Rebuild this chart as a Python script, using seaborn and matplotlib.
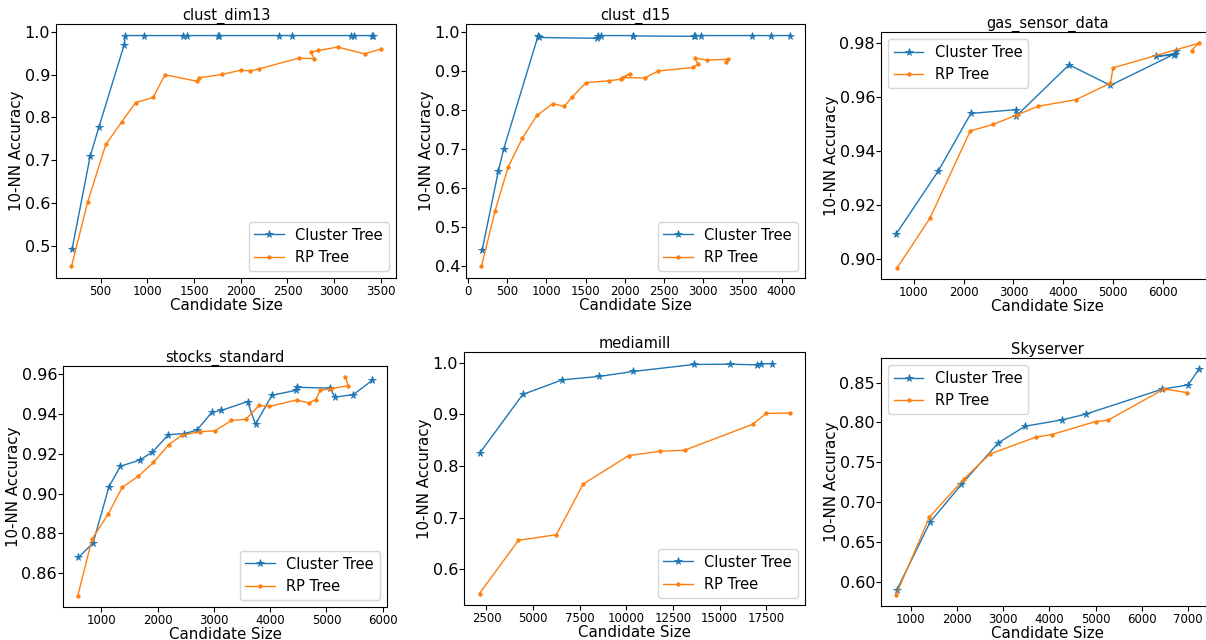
import matplotlib
matplotlib.use("Agg")
import matplotlib.pyplot as plt
import seaborn as sns
import pandas as pd

# ---------------- data ----------------
titles = ["clust_dim13", "clust_d15", "gas_sensor_data", "stocks_standard", "mediamill", "Skyserver"]
series_names = ["Cluster Tree", "RP Tree"]

# clust_dim13
dim13_ct_x = [196, 389, 482, 754, 764, 964, 1386, 1421, 1757, 1764, 2411, 2546, 3179, 3214, 3400, 3418]
dim13_ct_y = [0.492, 0.709, 0.777, 0.971, 0.992, 0.992, 0.992, 0.992, 0.992, 0.992, 0.992, 0.992, 0.992, 0.992, 0.992, 0.992]
dim13_rp_x = [189, 364, 557, 725, 875, 1064, 1189, 1532, 1554, 1804, 2004, 2104, 2196, 2621, 2786, 2752, 2829, 3039, 3325, 3496]
dim13_rp_y = [0.451, 0.603, 0.737, 0.789, 0.835, 0.847, 0.900, 0.885, 0.893, 0.901, 0.911, 0.909, 0.914, 0.939, 0.938, 0.953, 0.957, 0.965, 0.949, 0.960]
dim13_xticks = [500, 1000, 1500, 2000, 2500, 3000, 3500]

# clust_d15
d15_ct_x = [181, 388, 456, 895, 905, 1646, 1660, 1696, 2100, 2101, 2880, 2890, 2975, 3620, 3861, 4101]
d15_ct_y = [0.440, 0.643, 0.700, 0.991, 0.987, 0.985, 0.991, 0.992, 0.992, 0.991, 0.990, 0.992, 0.992, 0.992, 0.992, 0.992]
d15_rp_x = [173, 346, 515, 696, 882, 1084, 1228, 1325, 1506, 1802, 1954, 2068, 1965, 2253, 2426, 2873, 2932, 2894, 3046, 3316, 3291]
d15_rp_y = [0.399, 0.541, 0.655, 0.729, 0.787, 0.817, 0.810, 0.833, 0.871, 0.876, 0.880, 0.894, 0.884, 0.883, 0.901, 0.910, 0.919, 0.934, 0.929, 0.931, 0.924]
d15_xticks = [0, 500, 1000, 1500, 2000, 2500, 3000, 3500, 4000]

# gas_sensor_data
gas_ct_x = [645, 1489, 2145, 3056, 3050, 4115, 4945, 6240, 5856, 6230, 6271]
gas_ct_y = [0.9094, 0.9327, 0.9541, 0.9555, 0.9530, 0.9721, 0.9645, 0.9762, 0.9752, 0.9758, 0.9772]
gas_rp_x = [665, 1322, 2132, 2587, 3070, 3485, 4255, 4945, 4999, 6720, 6573]
gas_rp_y = [0.8969, 0.9152, 0.9476, 0.9500, 0.9535, 0.9567, 0.9592, 0.9653, 0.9710, 0.9801, 0.9774]
gas_xticks = [1000, 2000, 3000, 4000, 5000, 6000]

# stocks_standard
stk_ct_x = [591, 852, 1136, 1338, 1682, 1907, 2192, 2471, 2696, 2963, 3135, 3598, 3740, 4031, 4464, 4470, 5063, 5152, 5478, 5816]
stk_ct_y = [0.8679, 0.8752, 0.9036, 0.9138, 0.9169, 0.9209, 0.9297, 0.9302, 0.9319, 0.9409, 0.9419, 0.9463, 0.9349, 0.9495, 0.9520, 0.9535, 0.9531, 0.9486, 0.9498, 0.9570]
stk_rp_x = [579, 834, 1119, 1368, 1658, 1925, 2198, 2435, 2756, 3016, 3313, 3568, 3805, 3983, 4470, 4689, 4808, 4891, 5081, 5389, 5336]
stk_rp_y = [0.8485, 0.8772, 0.8896, 0.9031, 0.9088, 0.9157, 0.9247, 0.9294, 0.9312, 0.9316, 0.9368, 0.9374, 0.9444, 0.9439, 0.9471, 0.9456, 0.9473, 0.9520, 0.9528, 0.9543, 0.9587]
stk_xticks = [1000, 2000, 3000, 4000, 5000, 6000]

# mediamill
mm_ct_x = [2143, 4446, 6571, 8536, 10375, 13625, 15536, 17018, 17196, 17821]
mm_ct_y = [0.8254, 0.9388, 0.9671, 0.9736, 0.9833, 0.9968, 0.9974, 0.9961, 0.9978, 0.9987]
mm_rp_x = [2125, 4214, 6250, 7679, 10125, 11821, 13125, 16768, 17500, 18750]
mm_rp_y = [0.5530, 0.6560, 0.6670, 0.7649, 0.8203, 0.8287, 0.8306, 0.8808, 0.9021, 0.9027]
mm_xticks = [2500, 5000, 7500, 10000, 12500, 15000, 17500]

# Skyserver
sky_ct_x = [697, 1418, 2096, 2896, 3473, 4273, 4785, 6436, 7006, 7237]
sky_ct_y = [0.5900, 0.6751, 0.7223, 0.7745, 0.7953, 0.8033, 0.8104, 0.8417, 0.8471, 0.8667]
sky_rp_x = [683, 1404, 2154, 2709, 3704, 4050, 5001, 5268, 6487, 6970]
sky_rp_y = [0.5841, 0.6814, 0.7294, 0.7603, 0.7816, 0.7849, 0.8012, 0.8028, 0.8421, 0.8375]
sky_xticks = [1000, 2000, 3000, 4000, 5000, 6000, 7000]

# ---------------- layout ----------------
W, H = 1206, 640
# (left, top, right, bottom) in pixels
boxes = [
    (56, 24, 396, 278),
    (466, 24, 805, 278),
    (881, 32, 1214, 279),
    (63, 366, 387, 607),
    (464, 352, 805, 605),
    (881, 358, 1214, 606),
]
legend_locs = ["lower right", "lower right", "upper left", "lower right", "lower right", "upper left"]

panels = [
    (dim13_ct_x, dim13_ct_y, dim13_rp_x, dim13_rp_y, dim13_xticks),
    (d15_ct_x, d15_ct_y, d15_rp_x, d15_rp_y, d15_xticks),
    (gas_ct_x, gas_ct_y, gas_rp_x, gas_rp_y, gas_xticks),
    (stk_ct_x, stk_ct_y, stk_rp_x, stk_rp_y, stk_xticks),
    (mm_ct_x, mm_ct_y, mm_rp_x, mm_rp_y, mm_xticks),
    (sky_ct_x, sky_ct_y, sky_rp_x, sky_rp_y, sky_xticks),
]

plt.rcParams['font.family'] = ['DejaVu Sans']
fig = plt.figure(figsize=(W / 100, H / 100), dpi=100)

c_blue = "#1f77b4"
c_orange = "#ff7f0e"

for i, (ctx, cty, rpx, rpy, xt) in enumerate(panels):
    l, t, r, b = boxes[i]
    ax = fig.add_axes([l / W, 1 - b / H, (r - l) / W, (b - t) / H])
    df_ct = pd.DataFrame({"x": ctx, "y": cty})
    df_rp = pd.DataFrame({"x": rpx, "y": rpy})
    sns.lineplot(data=df_ct, x="x", y="y", ax=ax, sort=False, estimator=None,
                 color=c_blue, marker="*", markersize=5.5, linewidth=1,
                 markeredgecolor=c_blue, markeredgewidth=0.6, label=series_names[0])
    sns.lineplot(data=df_rp, x="x", y="y", ax=ax, sort=False, estimator=None,
                 color=c_orange, marker=".", markersize=5, linewidth=1,
                 markeredgecolor=c_orange, markeredgewidth=0.6, label=series_names[1])
    xmin, xmax = ax.get_xlim()
    ax.set_xticks(xt)
    ax.set_xlim(xmin, xmax)
    ax.set_title(titles[i], fontsize=10.5, pad=3)
    ax.set_xlabel("Candidate Size", fontsize=10.8, labelpad=0)
    ax.set_ylabel("10-NN Accuracy", fontsize=10.8, labelpad=0.5)
    ax.tick_params(axis="x", labelsize=8.5, pad=1.5)
    ax.tick_params(axis="y", labelsize=11.5, pad=0.8)
    ax.legend(loc=legend_locs[i], fontsize=10.5)

fig.savefig("out.png", dpi=100)
